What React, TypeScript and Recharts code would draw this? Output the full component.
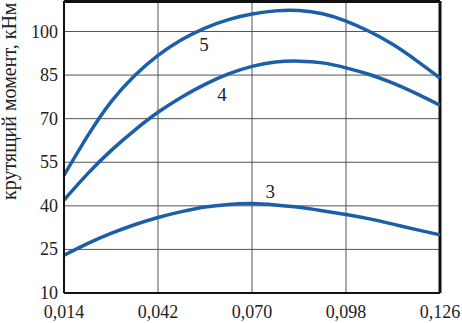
import React from 'react';
import {
    LineChart,
    Line,
    XAxis,
    YAxis,
    CartesianGrid,
    ReferenceLine,
    ReferenceDot,
    Label
} from 'recharts';

// шаг по оси X
const xs = [0.014, 0.021, 0.028, 0.035, 0.042, 0.049, 0.056, 0.063, 0.070, 0.077, 0.084, 0.091, 0.098, 0.105, 0.112, 0.119, 0.126];

const curve5 = [50.5, 64, 75.8, 84.8, 91.8, 97.2, 101.2, 104.1, 106, 107.1, 107.2, 106.1, 103.6, 100, 95.5, 90, 84];
const curve4 = [42, 51, 59, 66, 72.2, 77.4, 81.8, 85.4, 88, 89.5, 89.8, 89.2, 87.5, 85.2, 82.2, 78.6, 74.6];
const curve3 = [23, 27, 30.5, 33.5, 36, 38, 39.6, 40.5, 40.8, 40.3, 39.5, 38.3, 37, 35.5, 33.7, 31.8, 30];

const xTicks = [0.014, 0.042, 0.070, 0.098, 0.126];
const yTicks = [10, 25, 40, 55, 70, 85, 100];

const yTop = 110.5;
const lineColor = '#1b5fa8';
const font = '"Liberation Serif", "Times New Roman", serif';

const data = xs.map((x, i) => ({ x, c3: curve3[i], c4: curve4[i], c5: curve5[i] }));

const curveLabel = (text: string) => ({
    value: text,
    position: 'center' as const,
    fill: '#222',
    fontSize: 19,
    fontFamily: font
});

const XTick = (props: any) => {
    const { x, y, payload } = props;
    return (
        <text x={x} y={y + 13} fill="#222" fontSize={18} fontFamily={font} textAnchor="middle">
            {Number(payload.value).toFixed(3).replace('.', ',')}
        </text>
    );
};

const YTick = (props: any) => {
    const { x, y, payload } = props;
    return (
        <text x={x} y={y + 6} fill="#222" fontSize={18} fontFamily={font} textAnchor="end">
            {payload.value}
        </text>
    );
};

export default function App() {
    return (
        <div style={{ position: 'absolute', left: 0, top: 0, background: '#fff' }}>
            <LineChart width={462} height={323} data={data} margin={{ top: 1, right: 22, bottom: 0, left: 0 }}>
                <CartesianGrid stroke="#555" strokeWidth={1} />
                <XAxis
                    dataKey="x"
                    type="number"
                    domain={[0.014, 0.126]}
                    ticks={xTicks}
                    tickLine={false}
                    tickSize={0}
                    tickMargin={12}
                    height={30}
                    axisLine={{ stroke: '#111', strokeWidth: 2 }}
                    tick={<XTick />}
                />
                <YAxis
                    type="number"
                    domain={[10, yTop]}
                    ticks={yTicks}
                    tickLine={false}
                    tickSize={0}
                    tickMargin={6}
                    width={64}
                    axisLine={{ stroke: '#111', strokeWidth: 2 }}
                    tick={<YTick />}
                    interval={0}
                >
                    <Label
                        content={() => (
                            <text
                                x={16}
                                y={200}
                                transform="rotate(-90 16 200)"
                                fill="#222"
                                fontSize={20}
                                fontFamily={font}
                                textAnchor="start"
                            >
                                крутящий момент, кНм
                            </text>
                        )}
                    />
                </YAxis>
                <ReferenceLine y={yTop} stroke="#111" strokeWidth={4} />
                <ReferenceLine x={0.126} stroke="#111" strokeWidth={3} />
                <Line type="natural" dataKey="c5" stroke={lineColor} strokeWidth={3.5} dot={false} isAnimationActive={false} />
                <Line type="natural" dataKey="c4" stroke={lineColor} strokeWidth={3.5} dot={false} isAnimationActive={false} />
                <Line type="natural" dataKey="c3" stroke={lineColor} strokeWidth={3.5} dot={false} isAnimationActive={false} />
                <ReferenceDot x={0.0557} y={95.5} r={0} stroke="none" fill="none" label={curveLabel('5')} />
                <ReferenceDot x={0.0611} y={78.4} r={0} stroke="none" fill="none" label={curveLabel('4')} />
                <ReferenceDot x={0.0754} y={44.9} r={0} stroke="none" fill="none" label={curveLabel('3')} />
            </LineChart>
        </div>
    );
}
